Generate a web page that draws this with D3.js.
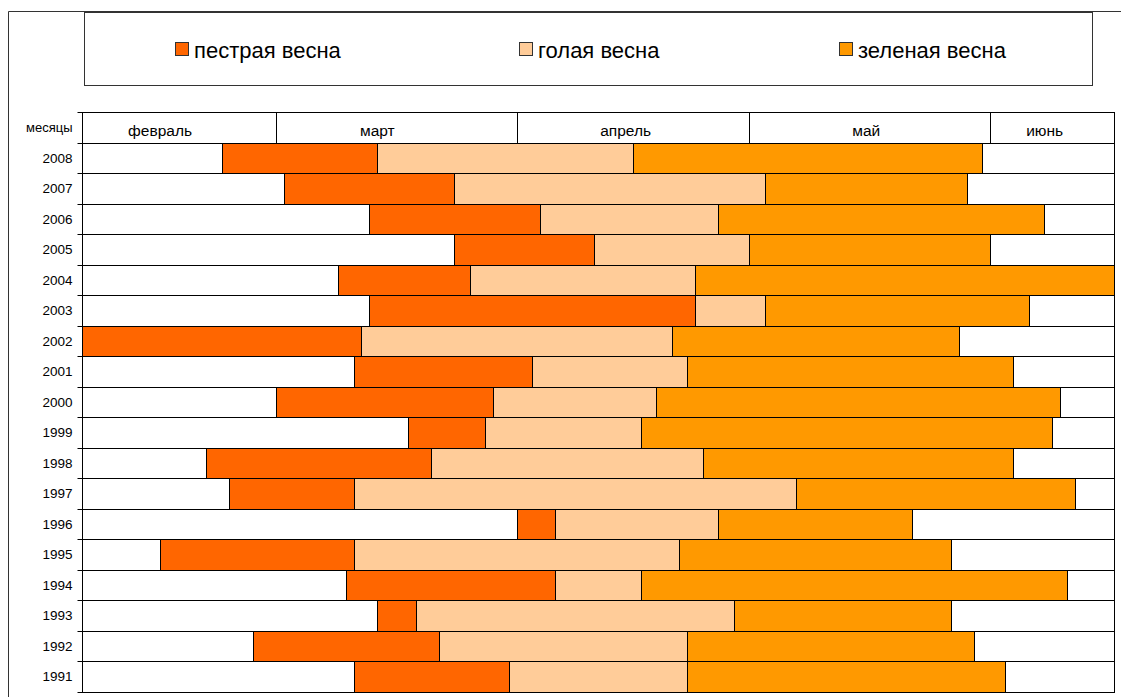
<!DOCTYPE html>
<html>
<head>
<meta charset="utf-8">
<script src="https://cdn.jsdelivr.net/npm/d3@7"></script>
<style>
  body { margin: 0; background: #fff; }
  svg { display: block; }
  text { font-family: Arial, "Liberation Sans", sans-serif; fill: #000; }
</style>
</head>
<body>
<svg id="chart" width="1121" height="697"></svg>
<script>
// Spring phases by year: dates (MM-DD) when each phase begins, and end of the green phase
const years = ["2008", "2007", "2006", "2005", "2004", "2003", "2002", "2001", "2000",
               "1999", "1998", "1997", "1996", "1995", "1994", "1993", "1992", "1991"];
const pestrayaStart = ["02-22", "03-02", "03-13", "03-24", "03-09", "03-13", "02-04", "03-11", "03-01",
                       "03-18", "02-20", "02-23", "04-01", "02-14", "03-10", "03-14", "02-26", "03-11"];
const golayaStart   = ["03-14", "03-24", "04-04", "04-11", "03-26", "04-24", "03-12", "04-03", "03-29",
                       "03-28", "03-21", "03-11", "04-06", "03-11", "04-06", "03-19", "03-22", "03-31"];
const zelenayaStart = ["04-16", "05-03", "04-27", "05-01", "04-24", "05-03", "04-21", "04-23", "04-19",
                       "04-17", "04-25", "05-07", "04-27", "04-22", "04-17", "04-29", "04-23", "04-23"];
const zelenayaEnd   = ["05-31", "05-29", "06-08", "06-01", "06-17", "06-06", "05-28", "06-04", "06-10",
                       "06-09", "06-04", "06-12", "05-22", "05-27", "06-11", "05-27", "05-30", "06-03"];

// Month header row
const monthNames   = ["февраль", "март", "апрель", "май", "июнь"];
const monthStarts  = ["02-04", "03-01", "04-01", "05-01", "06-01"];
const monthLabelAt = ["02-14", "03-14", "04-15", "05-16", "06-08"];
const axisStart = "02-04";
const axisEnd   = "06-17";
const rowTitle  = "месяцы";

// Legend
const seriesNames  = ["пестрая весна", "голая весна", "зеленая весна"];
const seriesColors = ["#FF6600", "#FFCC99", "#FF9900"];

const parse = s => d3.utcParse("%Y-%m-%d")("2001-" + s);

const svg = d3.select("#chart");
const W = 1121, H = 697;

// Outer frame of the chart area
svg.append("path")
  .attr("d", `M8.5,${H + 1}V11.5H${W + 1}`)
  .attr("fill", "none").attr("stroke", "#333").attr("stroke-width", 1);

// Legend box
const legend = svg.append("g");
legend.append("rect")
  .attr("x", 84.5).attr("y", 12.5).attr("width", 1008).attr("height", 73)
  .attr("fill", "#fff").attr("stroke", "#333").attr("stroke-width", 1);
const legendX = [175, 519, 839];
seriesNames.forEach((name, i) => {
  const g = legend.append("g").attr("transform", `translate(${legendX[i]},0)`);
  g.append("rect")
    .attr("x", 0.5).attr("y", 42.5).attr("width", 13).attr("height", 13)
    .attr("fill", seriesColors[i]).attr("stroke", "#333").attr("stroke-width", 1);
  g.append("text")
    .attr("x", 19).attr("y", 58)
    .style("font-size", "22px")
    .text(name);
});

// Scales
const x = d3.scaleUtc()
  .domain([parse(axisStart), parse(axisEnd)])
  .range([82.5, 1114.5])
  .clamp(true);
const px = s => Math.round(x(parse(s)) - 0.5) + 0.5;

const rows = [rowTitle, ...years];
const y = d3.scaleBand().domain(rows).range([112.5, 692]).paddingInner(0).paddingOuter(0);
const py = v => Math.round(v - 0.5) + 0.5;

// Header row: one cell per month
const header = svg.append("g");
const hy0 = py(y(rowTitle)), hy1 = py(y(rowTitle) + y.bandwidth());
monthNames.forEach((m, i) => {
  const x0 = px(monthStarts[i]);
  const x1 = px(i + 1 < monthStarts.length ? monthStarts[i + 1] : axisEnd);
  header.append("rect")
    .attr("x", x0).attr("y", hy0).attr("width", x1 - x0).attr("height", hy1 - hy0)
    .attr("fill", "#fff").attr("stroke", "#000").attr("stroke-width", 1);
  header.append("text")
    .attr("x", x(parse(monthLabelAt[i])))
    .attr("y", (hy0 + hy1) / 2 + 7.5)
    .attr("text-anchor", "middle")
    .style("font-size", "15.5px")
    .text(m);
});

// Phase bars: white gap, three coloured phases, white tail
const segs = [];
years.forEach((yr, i) => {
  const bounds = [axisStart, pestrayaStart[i], golayaStart[i], zelenayaStart[i], zelenayaEnd[i], axisEnd];
  const fills = ["#fff", seriesColors[0], seriesColors[1], seriesColors[2], "#fff"];
  for (let k = 0; k < 5; k++) {
    const x0 = px(bounds[k]), x1 = px(bounds[k + 1]);
    if (x1 - x0 > 0) segs.push({ yr, x0, x1, fill: fills[k] });
  }
});
svg.append("g").selectAll("rect").data(segs).join("rect")
  .attr("x", d => d.x0)
  .attr("y", d => py(y(d.yr)))
  .attr("width", d => d.x1 - d.x0)
  .attr("height", d => py(y(d.yr) + y.bandwidth()) - py(y(d.yr)))
  .attr("fill", d => d.fill)
  .attr("stroke", "#000")
  .attr("stroke-width", 1);

// Category axis: labels at row centres, ticks at row boundaries
const axisG = svg.append("g").attr("transform", "translate(82.5,0)")
  .call(d3.axisLeft(y).tickSize(0).tickPadding(10));
axisG.select(".domain").remove();
axisG.selectAll("text")
  .style("font-family", "Arial, 'Liberation Sans', sans-serif")
  .style("font-size", d => d === rowTitle ? "13px" : "13.5px")
  .attr("fill", "#000");

const edges = rows.map(r => py(y(r))).concat([py(y(rows[rows.length - 1]) + y.bandwidth())]);
svg.append("g").selectAll("line").data(edges).join("line")
  .attr("x1", 77.5).attr("x2", 82.5)
  .attr("y1", d => d).attr("y2", d => d)
  .attr("stroke", "#000").attr("stroke-width", 1);
svg.append("line")
  .attr("x1", 82.5).attr("x2", 82.5)
  .attr("y1", edges[0]).attr("y2", edges[edges.length - 1])
  .attr("stroke", "#000").attr("stroke-width", 1);
</script>
</body>
</html>
